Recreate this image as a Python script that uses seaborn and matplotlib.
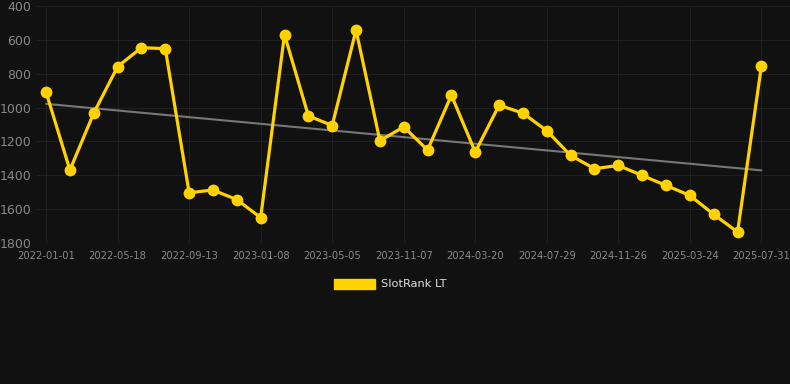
import matplotlib
matplotlib.use("Agg")
import matplotlib.pyplot as plt
import seaborn as sns
import pandas as pd
import numpy as np

# Data
tick_labels = ["2022-01-01", "2022-05-18", "2022-09-13", "2023-01-08", "2023-05-05",
               "2023-11-07", "2024-03-20", "2024-07-29", "2024-11-26", "2025-03-24",
               "2025-07-31"]
rank_values = [909, 1369, 1033, 758, 646, 652, 1503, 1487, 1544, 1650,
               569, 1049, 1106, 542, 1196, 1114, 1251, 927, 1263, 986,
               1033, 1137, 1283, 1361, 1342, 1401, 1460, 1519, 1631, 1735, 756]
trend_values = [978, 1371]
series_name = "SlotRank LT"

BG = "#111111"
GOLD = "#FFD200"

sns.set_theme(style="dark")
plt.rcParams["font.family"] = ["DejaVu Sans"]

df = pd.DataFrame({"idx": np.arange(len(rank_values)), "rank": rank_values, "series": series_name})
trend_df = pd.DataFrame({"idx": [0, len(rank_values) - 1], "rank": trend_values})

fig = plt.figure(figsize=(7.9, 3.84), dpi=100, facecolor=BG)
ax = fig.add_axes([37 / 790, 1 - 243 / 384, 1 - 37 / 790, 237 / 384])
ax.set_facecolor(BG)

sns.lineplot(data=trend_df, x="idx", y="rank", ax=ax, color="#777777", linewidth=1.5,
             legend=False, zorder=2)
sns.lineplot(data=df, x="idx", y="rank", ax=ax, color=GOLD, linewidth=2.3,
             marker="o", markersize=8.5, markeredgewidth=0, legend=False, zorder=3)

ax.set_ylim(1800, 400)
ax.set_xlim(-0.38, 31.2)
ax.set_yticks([400, 600, 800, 1000, 1200, 1400, 1600, 1800])
ax.set_xticks(np.arange(0, len(rank_values), 3))
ax.set_xticklabels(tick_labels)
ax.tick_params(axis="y", colors="#888888", labelsize=9, length=0, pad=4)
ax.tick_params(axis="x", colors="#888888", labelsize=7.2, length=0, pad=6)
ax.grid(True, color="#1f1f1f", linewidth=0.8)
ax.set_axisbelow(True)
for s in ax.spines.values():
    s.set_visible(False)
ax.set_xlabel("")
ax.set_ylabel("")

from matplotlib.patches import Patch
handle = Patch(facecolor=GOLD, edgecolor=GOLD)
leg = fig.legend([handle], [series_name], loc="center", bbox_to_anchor=(390 / 790, 1 - 284 / 384),
                 frameon=False, fontsize=8.2, handlelength=3.6, handleheight=1.0,
                 handletextpad=0.5, labelcolor="#dddddd")

fig.savefig("out.png", dpi=100, facecolor=BG)
